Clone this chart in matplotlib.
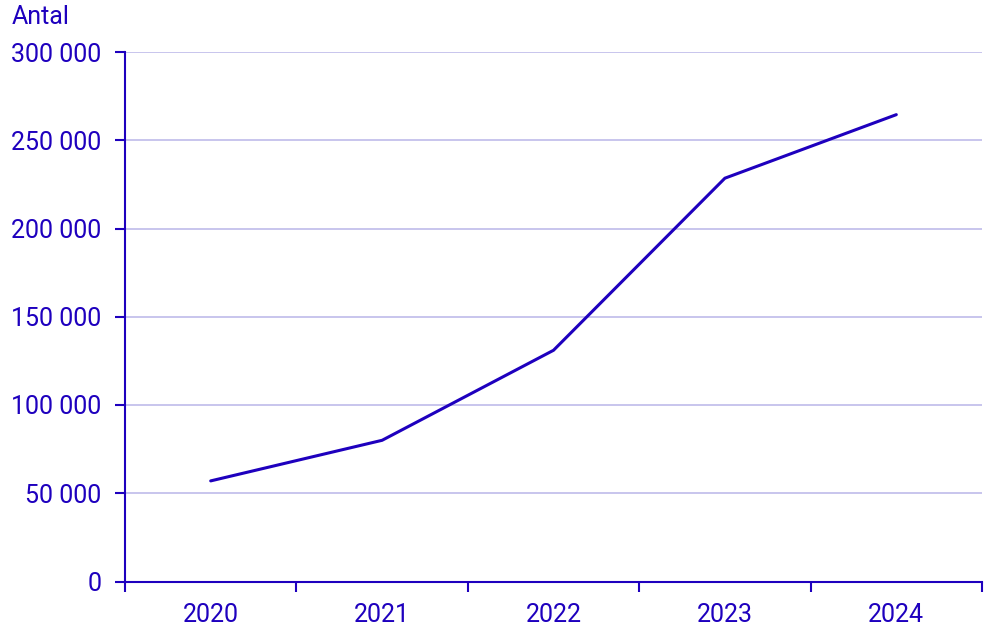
import matplotlib
matplotlib.use("Agg")
import matplotlib.pyplot as plt
from matplotlib.ticker import FuncFormatter

years = ["2020", "2021", "2022", "2023", "2024"]
values = [57000, 80000, 131000, 228500, 264500]
yticks = [0, 50000, 100000, 150000, 200000, 250000, 300000]

C = "#1E00BE"
GRID = "#C4C0EC"
plt.rcParams["font.family"] = ["Roboto", "DejaVu Sans"]

fig = plt.figure(figsize=(10.04, 6.4), dpi=100)
ax = fig.add_axes([125/1004, (640-581.5)/640, (982-125)/1004, (581.5-52)/640])

x = list(range(len(years)))
ax.plot(x, values, color=C, lw=2.2, solid_capstyle="round", solid_joinstyle="miter")

ax.set_xlim(-0.5, len(years)-0.5)
ax.set_ylim(0, 300000)
ax.set_yticks(yticks)
ax.yaxis.set_major_formatter(FuncFormatter(lambda v, p: f"{int(v):,}".replace(",", " ")))
ax.set_xticks([i + 0.5 for i in range(-1, len(years))])
ax.set_xticklabels([])
ax.set_xticks(x, minor=True)
ax.set_xticklabels(years, minor=True)
ax.tick_params(axis="x", which="minor", length=0, pad=15.5, labelsize=18, labelcolor=C)
ax.tick_params(axis="x", which="major", length=7, width=1.5, color=C)
ax.tick_params(axis="y", length=7, width=1.5, color=C, labelsize=18, labelcolor=C, pad=10)

ax.grid(axis="y", color=GRID, lw=1.3)
ax.set_axisbelow(True)
for s in ["top", "right"]:
    ax.spines[s].set_visible(False)
for s in ["left", "bottom"]:
    ax.spines[s].set_color(C)
    ax.spines[s].set_linewidth(1.5)

fig.text(12/1004, 1 - 17/640, "Antal", color=C, fontsize=18, ha="left", va="center")

fig.savefig("out.png", dpi=100)
